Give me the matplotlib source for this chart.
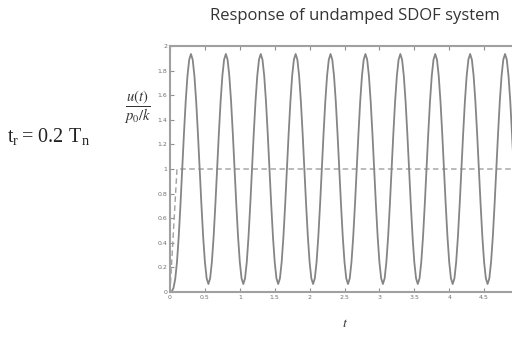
import matplotlib
matplotlib.use("Agg")
import matplotlib.pyplot as plt

# response of undamped SDOF system to ramp load, t_r = 0.2 T_n
t = [0.0, 0.025, 0.05, 0.075,
     0.100, 0.125, 0.150, 0.175, 0.200, 0.225, 0.250, 0.275, 0.300, 0.325,
     0.350, 0.375, 0.400, 0.425, 0.450, 0.475, 0.500, 0.525, 0.550, 0.575,
     0.600, 0.625, 0.650, 0.675, 0.700, 0.725, 0.750, 0.775, 0.800, 0.825,
     0.850, 0.875, 0.900, 0.925, 0.950, 0.975, 1.000, 1.025, 1.050, 1.075,
     1.100, 1.125, 1.150, 1.175, 1.200, 1.225, 1.250, 1.275, 1.300, 1.325,
     1.350, 1.375, 1.400, 1.425, 1.450, 1.475, 1.500, 1.525, 1.550, 1.575,
     1.600, 1.625, 1.650, 1.675, 1.700, 1.725, 1.750, 1.775, 1.800, 1.825,
     1.850, 1.875, 1.900, 1.925, 1.950, 1.975, 2.000, 2.025, 2.050, 2.075,
     2.100, 2.125, 2.150, 2.175, 2.200, 2.225, 2.250, 2.275, 2.300, 2.325,
     2.350, 2.375, 2.400, 2.425, 2.450, 2.475, 2.500, 2.525, 2.550, 2.575,
     2.600, 2.625, 2.650, 2.675, 2.700, 2.725, 2.750, 2.775, 2.800, 2.825,
     2.850, 2.875, 2.900, 2.925, 2.950, 2.975, 3.000, 3.025, 3.050, 3.075,
     3.100, 3.125, 3.150, 3.175, 3.200, 3.225, 3.250, 3.275, 3.300, 3.325,
     3.350, 3.375, 3.400, 3.425, 3.450, 3.475, 3.500, 3.525, 3.550, 3.575,
     3.600, 3.625, 3.650, 3.675, 3.700, 3.725, 3.750, 3.775, 3.800, 3.825,
     3.850, 3.875, 3.900, 3.925, 3.950, 3.975, 4.000, 4.025, 4.050, 4.075,
     4.100, 4.125, 4.150, 4.175, 4.200, 4.225, 4.250, 4.275, 4.300, 4.325,
     4.350, 4.375, 4.400, 4.425, 4.450, 4.475, 4.500, 4.525, 4.550, 4.575,
     4.600, 4.625, 4.650, 4.675, 4.700, 4.725, 4.750, 4.775, 4.800, 4.825,
     4.850, 4.875, 4.900, 4.925, 4.950, 4.975, 5.000]
u = [0.0, 0.004, 0.032, 0.106,
     0.244, 0.450, 0.711, 1.000, 1.289, 1.550, 1.756, 1.889, 1.935, 1.889,
     1.756, 1.550, 1.289, 1.000, 0.711, 0.450, 0.244, 0.111, 0.065, 0.111,
     0.244, 0.450, 0.711, 1.000, 1.289, 1.550, 1.756, 1.889, 1.935, 1.889,
     1.756, 1.550, 1.289, 1.000, 0.711, 0.450, 0.244, 0.111, 0.065, 0.111,
     0.244, 0.450, 0.711, 1.000, 1.289, 1.550, 1.756, 1.889, 1.935, 1.889,
     1.756, 1.550, 1.289, 1.000, 0.711, 0.450, 0.244, 0.111, 0.065, 0.111,
     0.244, 0.450, 0.711, 1.000, 1.289, 1.550, 1.756, 1.889, 1.935, 1.889,
     1.756, 1.550, 1.289, 1.000, 0.711, 0.450, 0.244, 0.111, 0.065, 0.111,
     0.244, 0.450, 0.711, 1.000, 1.289, 1.550, 1.756, 1.889, 1.935, 1.889,
     1.756, 1.550, 1.289, 1.000, 0.711, 0.450, 0.244, 0.111, 0.065, 0.111,
     0.244, 0.450, 0.711, 1.000, 1.289, 1.550, 1.756, 1.889, 1.935, 1.889,
     1.756, 1.550, 1.289, 1.000, 0.711, 0.450, 0.244, 0.111, 0.065, 0.111,
     0.244, 0.450, 0.711, 1.000, 1.289, 1.550, 1.756, 1.889, 1.935, 1.889,
     1.756, 1.550, 1.289, 1.000, 0.711, 0.450, 0.244, 0.111, 0.065, 0.111,
     0.244, 0.450, 0.711, 1.000, 1.289, 1.550, 1.756, 1.889, 1.935, 1.889,
     1.756, 1.550, 1.289, 1.000, 0.711, 0.450, 0.244, 0.111, 0.065, 0.111,
     0.244, 0.450, 0.711, 1.000, 1.289, 1.550, 1.756, 1.889, 1.935, 1.889,
     1.756, 1.550, 1.289, 1.000, 0.711, 0.450, 0.244, 0.111, 0.065, 0.111,
     0.244, 0.450, 0.711, 1.000, 1.289, 1.550, 1.756, 1.889, 1.935, 1.889,
     1.756, 1.550, 1.289, 1.000, 0.711, 0.450, 0.244]

# applied load p(t)/p0 (ramp then constant)
t_load = [0.0, 0.1, 5.0]
p_load = [0.0, 1.0, 1.0]

xticks = [0, 0.5, 1, 1.5, 2, 2.5, 3, 3.5, 4, 4.5, 5]
xticklabels = ["0", "0.5", "1", "1.5", "2", "2.5", "3", "3.5", "4", "4.5", ""]
yticks = [0, 0.2, 0.4, 0.6, 0.8, 1, 1.2, 1.4, 1.6, 1.8, 2]
yticklabels = ["0", "0.2", "0.4", "0.6", "0.8", "1", "1.2", "1.4", "1.6", "1.8", "2"]

W, H = 512, 338
fig = plt.figure(figsize=(W / 100, H / 100), dpi=100)
ax = fig.add_axes([170 / W, 1 - 292 / H, (519 - 170) / W, (292 - 46) / H])

ax.plot(t_load, p_load, color="#a0a0a0", linestyle=(0, (4, 2.5)), linewidth=1.0)
ax.plot(t, u, color="#858585", linewidth=1.3)

ax.set_xlim(0, 5)
ax.set_ylim(0, 2)
ax.set_xticks(xticks)
ax.set_xticklabels(xticklabels)
ax.set_yticks(yticks)
ax.set_yticklabels(yticklabels)
ax.tick_params(direction="in", length=3, width=0.8, colors="#909090",
               labelsize=4.5, labelcolor="#707070", top=True, right=True, pad=2)
for side in ax.spines.values():
    side.set_color("#a0a0a0")
    side.set_linewidth(1.5)

fig.text(355 / W, 1 - 16 / H, "Response of undamped SDOF system",
         ha="center", va="center", fontsize=12, family="Open Sans", color="#333333")
fig.text(138 / W, 1 - 107 / H, r"$\dfrac{u(t)}{p_0/k}$", ha="center", va="center",
         fontsize=10.5, color="#333333", math_fontfamily="stix")
fig.text(345 / W, 1 - 323 / H, r"$t$", ha="center", va="center",
         fontsize=10, color="#333333", math_fontfamily="stix")
fig.text(49 / W, 1 - 136 / H, r"$\mathregular{t_r = 0.2\ T_n}$", ha="center", va="center",
         fontsize=14.5, family="Liberation Serif", color="#222222")

fig.savefig("out.png", dpi=100)
